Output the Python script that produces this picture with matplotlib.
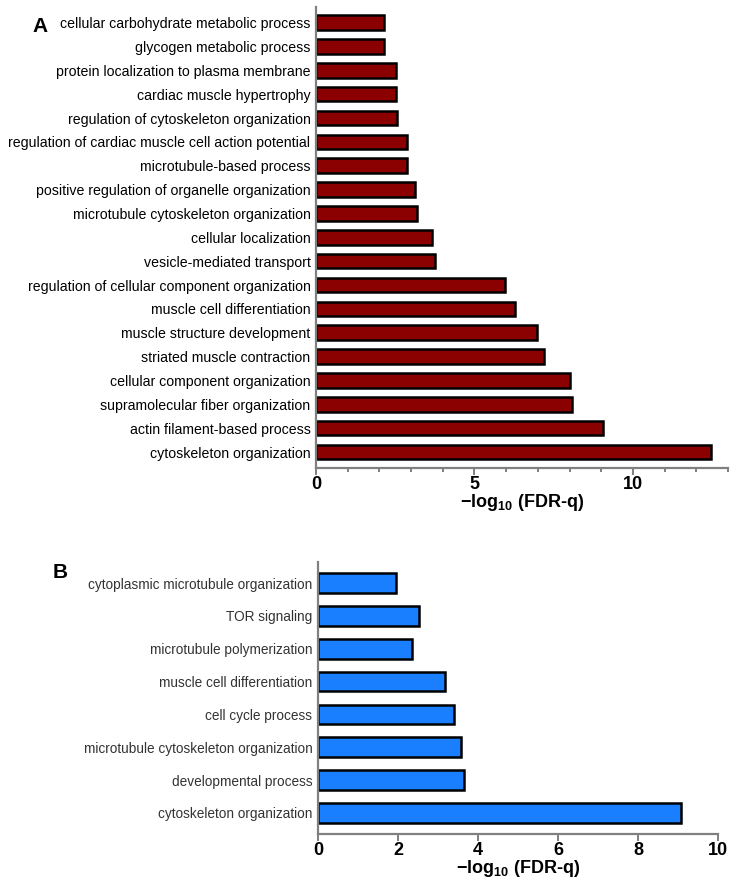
import matplotlib
matplotlib.use("Agg")
import matplotlib.pyplot as plt
from matplotlib.ticker import MultipleLocator

plt.rcParams['font.family'] = ['Liberation Sans', 'DejaVu Sans']
plt.rcParams['mathtext.fontset'] = 'custom'
plt.rcParams['mathtext.rm'] = 'Liberation Sans'
plt.rcParams['mathtext.bf'] = 'Liberation Sans:bold'

# Panel A: GO terms (top to bottom) and -log10(FDR-q)
terms_a = [
    "cellular carbohydrate metabolic process",
    "glycogen metabolic process",
    "protein localization to plasma membrane",
    "cardiac muscle hypertrophy",
    "regulation of cytoskeleton organization",
    "regulation of cardiac muscle cell action potential",
    "microtubule-based process",
    "positive regulation of organelle organization",
    "microtubule cytoskeleton organization",
    "cellular localization",
    "vesicle-mediated transport",
    "regulation of cellular component organization",
    "muscle cell differentiation",
    "muscle structure development",
    "striated muscle contraction",
    "cellular component organization",
    "supramolecular fiber organization",
    "actin filament-based process",
    "cytoskeleton organization",
]
values_a = [2.16, 2.16, 2.52, 2.52, 2.55, 2.87, 2.87, 3.12, 3.20, 3.67, 3.76,
            5.95, 6.28, 6.98, 7.19, 8.02, 8.08, 9.06, 12.47]

# Panel B
terms_b = [
    "cytoplasmic microtubule organization",
    "TOR signaling",
    "microtubule polymerization",
    "muscle cell differentiation",
    "cell cycle process",
    "microtubule cytoskeleton organization",
    "developmental process",
    "cytoskeleton organization",
]
values_b = [1.94, 2.53, 2.35, 3.18, 3.40, 3.57, 3.65, 9.07]

xlabel = r'$\mathbf{-log_{10}}$ (FDR-q)'
spine_grey = '#808080'


def style_axis(ax, label_color, label_size):
    for s in ['top', 'right']:
        ax.spines[s].set_visible(False)
    for s in ['left', 'bottom']:
        ax.spines[s].set_color(spine_grey)
        ax.spines[s].set_linewidth(1.6)
    ax.tick_params(axis='y', length=0, pad=4, labelsize=label_size, labelcolor=label_color)
    ax.tick_params(axis='x', which='major', length=5, width=1.4, color=spine_grey,
                   labelsize=13, pad=1)
    ax.tick_params(axis='x', which='minor', length=3, width=1.4, color=spine_grey)
    for t in ax.get_xticklabels():
        t.set_fontweight('bold')
    ax.set_xlabel(xlabel, fontsize=13, fontweight='bold', labelpad=-1)


fig = plt.figure(figsize=(7.41, 8.83), dpi=100)

ax_a = fig.add_axes([0.4265, 0.470, 0.556, 0.522])
ypos_a = list(range(len(terms_a)))
ax_a.barh(ypos_a, values_a, height=0.61, color='#8B0000', edgecolor='black', linewidth=1.8)
ax_a.set_yticks(ypos_a)
ax_a.set_yticklabels(terms_a)
ax_a.set_ylim(len(terms_a) - 1 + 0.67, -0.65)
ax_a.set_xlim(0, 13)
ax_a.xaxis.set_major_locator(MultipleLocator(5))
ax_a.xaxis.set_minor_locator(MultipleLocator(1))
style_axis(ax_a, 'black', 10.2)

ax_b = fig.add_axes([0.4291, 0.0555, 0.540, 0.308])
ypos_b = list(range(len(terms_b)))
ax_b.barh(ypos_b, values_b, height=0.6, color='#1A7FFF', edgecolor='black', linewidth=1.8)
ax_b.set_yticks(ypos_b)
ax_b.set_yticklabels(terms_b)
ax_b.set_ylim(len(terms_b) - 1 + 0.64, -0.64)
ax_b.set_xlim(0, 10)
ax_b.xaxis.set_major_locator(MultipleLocator(2))
style_axis(ax_b, '#333333', 9.85)

fig.text(32 / 741, 1 - 26 / 883, 'A', fontsize=15, fontweight='bold', va='center', ha='left')
fig.text(53 / 741, 1 - 572 / 883, 'B', fontsize=15, fontweight='bold', va='center', ha='left')

fig.savefig('out.png', dpi=100)
